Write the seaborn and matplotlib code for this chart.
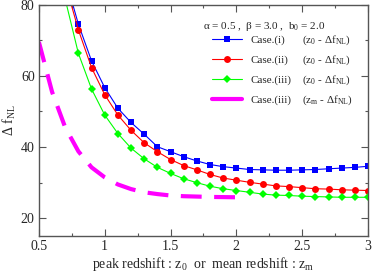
import numpy as np
import pandas as pd
import matplotlib
matplotlib.use("Agg")
import matplotlib.pyplot as plt
import seaborn as sns
from matplotlib.ticker import MultipleLocator
from matplotlib.lines import Line2D

sns.set_theme(style="ticks")
plt.rcParams['font.family'] = ['Liberation Serif', 'DejaVu Serif']
plt.rcParams['mathtext.fontset'] = 'custom'
plt.rcParams['mathtext.rm'] = 'Liberation Serif'
plt.rcParams['mathtext.it'] = 'Liberation Serif'

# peak redshift grid (cases i-iii)
z0 = [0.7, 0.8, 0.9, 1.0, 1.1, 1.2, 1.3, 1.4, 1.5, 1.6, 1.7, 1.8, 1.9, 2.0,
      2.1, 2.2, 2.3, 2.4, 2.5, 2.6, 2.7, 2.8, 2.9, 3.0]
case_i = [87.5, 74.5, 64.2, 56.7, 50.9, 46.9, 43.6, 40.1, 38.7, 37.3, 36.1, 35.1, 34.5, 34.1,
          33.7, 33.6, 33.5, 33.5, 33.6, 33.7, 33.9, 34.1, 34.3, 34.6]
case_ii = [86.0, 72.9, 62.3, 54.7, 49.0, 44.7, 41.2, 38.7, 36.5, 34.8, 33.6, 32.3, 31.3, 30.7,
           30.1, 29.6, 29.1, 28.9, 28.6, 28.3, 28.2, 28.0, 27.9, 27.8]
case_iii = [81.5, 66.3, 56.3, 49.0, 43.8, 39.7, 36.7, 34.3, 32.6, 31.1, 30.0, 29.0, 28.3, 27.8,
            27.3, 26.8, 26.5, 26.4, 26.2, 26.1, 26.0, 25.9, 25.9, 25.9]

# mean redshift grid (case iii, z_m)
zm = [0.5, 0.6, 0.7, 0.8, 0.9, 1.0, 1.1, 1.2, 1.3, 1.4, 1.5, 1.6, 1.7, 1.8, 1.9, 2.0, 2.05]
case_iii_m = [69.5, 55.5, 45.5, 38.8, 34.3, 31.5, 29.5, 28.2, 27.3, 26.8, 26.4, 26.2, 26.1,
              26.0, 25.95, 25.9, 25.9]

labels = ["Case.(i)", "Case.(ii)", "Case.(iii)", "Case.(iii)"]
subs = ["0", "0", "0", "m"]

fig = plt.figure(figsize=(3.74, 2.72), dpi=100)
ax = fig.add_axes([0.104, 0.132, 0.88, 0.851])

sns.lineplot(x=z0, y=case_i, ax=ax, color='#0000ff', lw=0.8, marker='s', ms=4,
             mec='#0000ff', mew=0)
sns.lineplot(x=z0, y=case_ii, ax=ax, color='#ff0000', lw=0.8, marker='o', ms=5,
             mec='#ff0000', mew=0)
sns.lineplot(x=z0, y=case_iii, ax=ax, color='#00ff00', lw=0.8, marker='D', ms=3.6,
             mec='#00ff00', mew=0)
sns.lineplot(x=zm, y=case_iii_m, ax=ax, color='#ff00ff', lw=3.0)
ax.lines[-1].set_dashes([5, 3])
ax.lines[-1].set_dash_capstyle('butt')

ax.set_xlim(0.5, 3.0)
ax.set_ylim(15, 80)
ax.xaxis.set_major_locator(MultipleLocator(0.5))
ax.xaxis.set_minor_locator(MultipleLocator(0.25))
ax.yaxis.set_major_locator(MultipleLocator(20))
ax.yaxis.set_minor_locator(MultipleLocator(10))
ax.tick_params(which='both', direction='in', top=True, right=True, labelsize=10,
               color='#555555', width=0.8, pad=3)
ax.tick_params(which='major', length=5)
ax.tick_params(which='minor', length=2.5)
ax.xaxis.set_major_formatter(matplotlib.ticker.FuncFormatter(lambda v, p: f"{v:g}"))
for s in ax.spines.values():
    s.set_color('#555555')
    s.set_linewidth(1.0)

ax.set_xlabel(r"peak redshift : z$_0$  or  mean redshift : z$_m$", fontsize=10, labelpad=1)
ax.set_ylabel(r"$\Delta$ f$_{\rm NL}$", fontsize=10, labelpad=2)

handles = [
    Line2D([], [], color='#0000ff', lw=0.8, marker='s', ms=4, mew=0),
    Line2D([], [], color='#ff0000', lw=0.8, marker='o', ms=5, mew=0),
    Line2D([], [], color='#00ff00', lw=0.8, marker='D', ms=3.6, mew=0),
    Line2D([], [], color='#ff00ff', lw=3.0),
]
leg = ax.legend(handles, labels, loc='upper left', bbox_to_anchor=(0.527, 0.87),
                frameon=False, fontsize=8, handlelength=2.7, handletextpad=0.7,
                labelspacing=0.92, borderaxespad=0, borderpad=0)
leg.legend_handles[3].set_linewidth(3.0)

ax.text(0.50, 0.905, r"$\alpha$ = 0.5 ,  $\beta$ = 3.0 ,  b$_0$ = 2.0", transform=ax.transAxes,
        fontsize=8, va='center', ha='left')

# second column of the legend, aligned to the legend rows
fig.canvas.draw()
inv = ax.transAxes.inverted()
for t, s in zip(leg.get_texts(), subs):
    bb = t.get_window_extent()
    yc = inv.transform((0, (bb.y0 + bb.y1) / 2))[1]
    ax.text(0.80, yc, r"(z$_%s$ - $\Delta$f$_{\rm NL}$)" % s, transform=ax.transAxes,
            fontsize=8, va='center', ha='left')

fig.savefig("out.png", dpi=100)
